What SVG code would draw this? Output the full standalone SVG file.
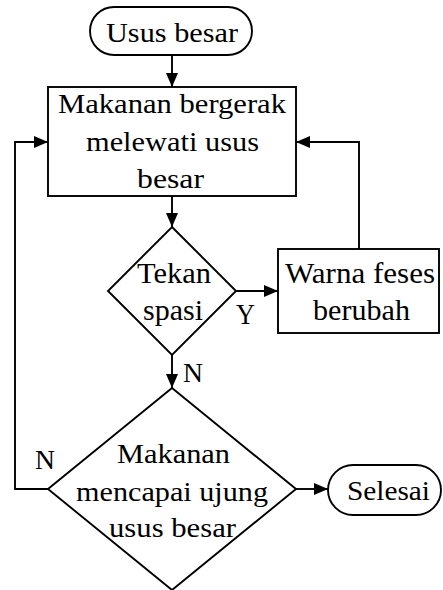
<svg xmlns="http://www.w3.org/2000/svg" width="443" height="590" viewBox="0 0 443 590">
<style>
.s{fill:#fff;stroke:#000;stroke-width:1.9}
.c{fill:none;stroke:#000;stroke-width:1.9}
text{font-family:"Liberation Serif","Times New Roman",serif;font-size:28px;fill:#000;text-anchor:middle}
.b{font-size:29px}
</style>
<defs>
<marker id="a" markerUnits="userSpaceOnUse" markerWidth="15" markerHeight="13" refX="14" refY="6" orient="auto">
<path d="M0,0 L14,6 L0,12 z" fill="#000"/>
</marker>
</defs>
<g id="connectors">
<path class="c" d="M172,55 V87" marker-end="url(#a)"/>
<path class="c" d="M172,196 V227" marker-end="url(#a)"/>
<path class="c" d="M236,291 H278" marker-end="url(#a)"/>
<path class="c" d="M359,249 V142 H296" marker-end="url(#a)"/>
<path class="c" d="M172,355 V388" marker-end="url(#a)"/>
<path class="c" d="M296,489 H328" marker-end="url(#a)"/>
<path class="c" d="M48,489 H15 V142 H48" marker-end="url(#a)"/>
<text class="b" x="245.5" y="324" textLength="19" lengthAdjust="spacingAndGlyphs">Y</text>
<text x="193" y="382" textLength="20" lengthAdjust="spacingAndGlyphs">N</text>
<text x="45" y="469" font-size="26" textLength="20" lengthAdjust="spacingAndGlyphs">N</text>
</g>
<g id="start">
<rect class="s" x="90" y="7" width="162" height="48" rx="24"/>
<text x="172" y="42" font-size="31" textLength="132" lengthAdjust="spacingAndGlyphs">Usus besar</text>
</g>
<g id="process1">
<rect class="s" x="48" y="87" width="248" height="109"/>
<text x="172" y="113" textLength="228" lengthAdjust="spacingAndGlyphs">Makanan bergerak</text>
<text x="172.5" y="151" textLength="173" lengthAdjust="spacingAndGlyphs">melewati usus</text>
<text x="170.5" y="188" textLength="67" lengthAdjust="spacingAndGlyphs">besar</text>
</g>
<g id="decision1">
<polygon class="s" points="172,227 236,291 172,355 108,291"/>
<text class="b" x="174" y="283" textLength="74" lengthAdjust="spacingAndGlyphs">Tekan</text>
<text class="b" x="173" y="320" textLength="60" lengthAdjust="spacingAndGlyphs">spasi</text>
</g>
<g id="process2">
<rect class="s" x="278" y="249" width="161" height="84"/>
<text class="b" x="360" y="283" textLength="150" lengthAdjust="spacingAndGlyphs">Warna feses</text>
<text class="b" x="361.5" y="320" textLength="97" lengthAdjust="spacingAndGlyphs">berubah</text>
</g>
<g id="decision2">
<polygon class="s" points="172,388 296,489 172,590 48,489"/>
<text x="173.5" y="463" textLength="113" lengthAdjust="spacingAndGlyphs">Makanan</text>
<text x="172" y="501" textLength="192" lengthAdjust="spacingAndGlyphs">mencapai ujung</text>
<text x="172.5" y="537" textLength="127" lengthAdjust="spacingAndGlyphs">usus besar</text>
</g>
<g id="end">
<rect class="s" x="328" y="465" width="113" height="50" rx="25"/>
<text x="388.5" y="500" textLength="83" lengthAdjust="spacingAndGlyphs">Selesai</text>
</g>
</svg>
